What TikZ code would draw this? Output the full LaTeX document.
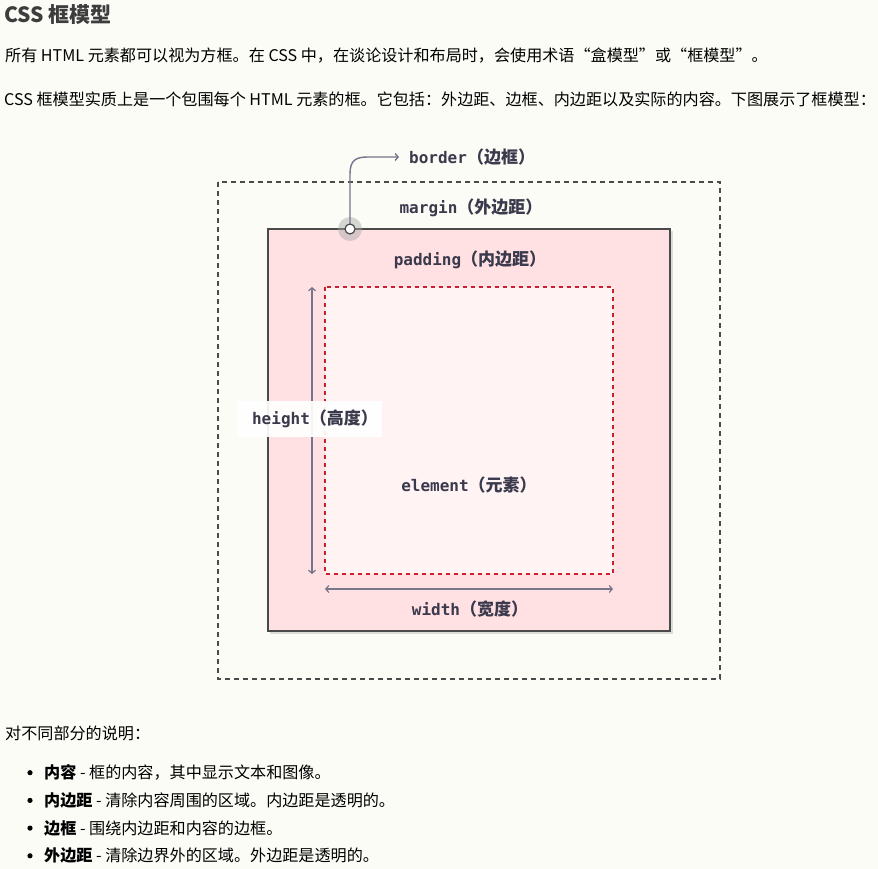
\documentclass[tikz,border=0pt]{standalone}
\usepackage{fontspec}
\setmainfont{Noto Sans CJK SC}
\newfontfamily\monofont{DejaVu Sans Mono}
\usetikzlibrary{arrows.meta,positioning}
\definecolor{pagebg}{HTML}{FCFCF7}
\definecolor{headgray}{HTML}{3D3D3D}
\definecolor{labelink}{HTML}{3A3A4C}
\definecolor{arrowgray}{HTML}{76758A}
\definecolor{borderpink}{HTML}{FFE1E3}
\definecolor{contentpink}{HTML}{FFF3F4}
\definecolor{dashred}{HTML}{CC1F2D}
\definecolor{framegray}{HTML}{4A4A4A}
\newcommand{\boxlbl}[2]{{\monofont\bfseries #1}{\fontsize{17}{18}\selectfont\bfseries （#2）}}

\begin{document}
\begin{tikzpicture}[x=1pt,y=-1pt,
	boxlabel/.style={text=labelink,font=\fontsize{16}{18}\selectfont,inner sep=0},
	bodytext/.style={anchor=west,inner sep=0,font=\fontsize{16.1}{20}\selectfont},
	barb/.tip={Straight Barb[length=3pt,width=7pt]},
	measure/.style={draw=arrowgray,line width=1.2,{barb}-{barb}}]
	\fill[pagebg] (0,0) rectangle (878,869);
	\useasboundingbox (0,0) rectangle (878,869);
	% page text
	\node[bodytext,font=\fontsize{21}{24}\selectfont\bfseries,text=headgray] (title) at (4,15) {CSS 框模型};
	\node[bodytext] (intro) at (5,56) {所有 HTML 元素都可以视为方框。在 CSS 中，在谈论设计和布局时，会使用术语“盒模型”或“框模型”。};
	\node[bodytext] (summary) at (4,99) {CSS 框模型实质上是一个包围每个 HTML 元素的框。它包括：外边距、边框、内边距以及实际的内容。下图展示了框模型：};
	% box model
	\draw[framegray,line width=1.6,dash pattern=on 5pt off 4pt] (218,182) rectangle (720,679);
	\fill[black,opacity=0.12] (270,231) rectangle (673,634);
	\draw[framegray,fill=borderpink,line width=1.8] (268,229) rectangle (670,631);
	\draw[dashred,fill=contentpink,line width=1.8,dash pattern=on 4pt off 4pt] (325,287) rectangle (613,574);
	\node[boxlabel] (marginlbl) at (471,208) {\boxlbl{margin}{外边距}};
	\node[boxlabel] (paddinglbl) at (470,260) {\boxlbl{padding}{内边距}};
	\node[boxlabel] (elementlbl) at (469,485) {\boxlbl{element}{元素}};
	% height and width
	\coordinate (htop) at (312,287);
	\coordinate (hbot) at (312,574);
	\draw[measure] (htop) -- (hbot);
	\node[fill=white,fill opacity=0.92,minimum width=145,minimum height=36,inner sep=0] (heightbox) at (309,419) {};
	\node[boxlabel] (heightlbl) at (315,419) {\boxlbl{height}{高度}};
	\coordinate (wleft) at (325,589);
	\coordinate (wright) at (613,589);
	\draw[measure] (wleft) -- (wright);
	\node[boxlabel] (widthlbl) at (470,609) {\boxlbl{width}{宽度}};
	% border pointer
	\coordinate (pin) at (350,229);
	\node[boxlabel,anchor=west] (borderlbl) at (409,157) {\boxlbl{border}{边框}};
	\coordinate (pinend) at ([xshift=-10]borderlbl.west);
	\fill[gray!70,opacity=0.45] (pin) circle (12);
	\draw[arrowgray,line width=1.4,-{barb}] (pin) -- ++(0,-55) .. controls +(0,-14) and +(-12,0) .. (368,157) -- (pinend);
	\draw[framegray,fill=white,line width=1.2] (pin) circle (5);
	% legend
	\node[bodytext] (legend) at (5,733) {对不同部分的说明：};
	\foreach \term/\desc [count=\i] in {内容/框的内容，其中显示文本和图像。,内边距/清除内容周围的区域。内边距是透明的。,边框/围绕内边距和内容的边框。,外边距/清除边界外的区域。外边距是透明的。}{
		\fill (30,745+27.7*\i) circle (2.6);
		\node[bodytext] (item\i) at (44,745+27.7*\i) {\textbf{\term} - \desc};}
\end{tikzpicture}
\end{document}
